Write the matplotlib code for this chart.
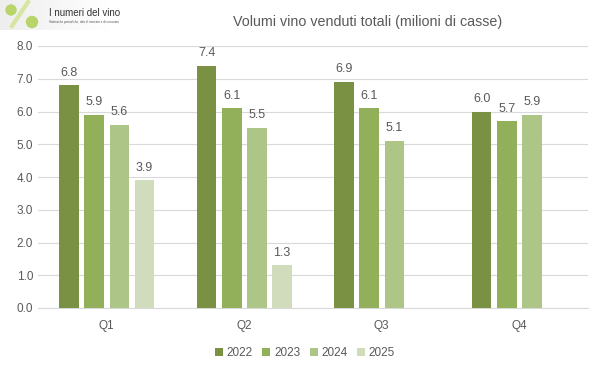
import numpy as np
import matplotlib
matplotlib.use('Agg')
import matplotlib.pyplot as plt

quarters = ["Q1", "Q2", "Q3", "Q4"]
years = ["2022", "2023", "2024", "2025"]
v2022 = [6.8, 7.4, 6.9, 6.0]
v2023 = [5.9, 6.1, 6.1, 5.7]
v2024 = [5.6, 5.5, 5.1, 5.9]
v2025 = [3.9, 1.3, None, None]
series = [v2022, v2023, v2024, v2025]
colors = ["#7a9144", "#92b05a", "#adc688", "#d0dcbc"]

txt = "#595959"
plt.rcParams['font.family'] = ['Liberation Sans', 'DejaVu Sans']

fig = plt.figure(figsize=(5.99, 3.74), dpi=100)
ax = fig.add_axes([38 / 599, 1 - 308 / 374, 550 / 599, 262 / 374])

x = np.arange(len(quarters))
w = 0.142
pitch = 0.182
for i, (vals, c) in enumerate(zip(series, colors)):
    xs = [xx + (i - 1.5) * pitch for xx, v in zip(x, vals) if v is not None]
    ys = [v for v in vals if v is not None]
    bars = ax.bar(xs, ys, width=w, color=c, label=years[i], zorder=3)
    for b, v in zip(bars, ys):
        ax.text(b.get_x() + b.get_width() / 2, v + 0.2, "%.1f" % v,
                ha='center', va='bottom', fontsize=9, color=txt)

ax.set_xlim(-0.5, 3.5)
ax.set_ylim(0, 8)
ax.set_yticks(np.arange(0, 8.1, 1))
ax.set_yticklabels(["%.1f" % t for t in np.arange(0, 8.1, 1)])
ax.set_xticks(x)
ax.set_xticklabels(quarters)
ax.tick_params(axis='both', length=0, labelsize=8.5, labelcolor=txt)
ax.tick_params(axis='x', pad=9)
ax.grid(axis='y', color='#d9d9d9', linewidth=0.8, zorder=0)
for s in ['top', 'right', 'left']:
    ax.spines[s].set_visible(False)
ax.spines['bottom'].set_color('#d9d9d9')

fig.text(368 / 599, 1 - 22 / 374, "Volumi vino venduti totali (milioni di casse)",
         ha='center', va='center', fontsize=10.3, color=txt)

leg = fig.legend(loc='center', bbox_to_anchor=(305 / 599, 1 - 353 / 374), ncol=4,
                 frameon=False, fontsize=8.5, handlelength=0.7, handleheight=0.7,
                 handletextpad=0.3, columnspacing=0.8, labelcolor=txt)

# logo
logo = fig.add_axes([0, 1 - 30 / 374, 115 / 599, 30 / 374])
logo.set_xlim(0, 115)
logo.set_ylim(0, 30)
logo.axis('off')
logo.imshow(np.linspace(0.93, 1.0, 100)[None, :], cmap='gray', vmin=0, vmax=1,
            extent=[0, 115, 0, 30], aspect='auto')
logo.plot([12, 28], [4, 28], color='#d6e6a0', linewidth=3)
logo.add_patch(plt.Circle((11, 20), 5, color='#b8d46a'))
logo.add_patch(plt.Circle((32, 8), 5.5, color='#b8d46a'))
logo.text(49, 17, "I numeri del vino", fontsize=7, color='#333333', va='center')
logo.text(49, 8, "Statistiche periodiche, dati di mercato e di consumo", fontsize=2.2,
          color='#555555', va='center')

fig.savefig("out.png", dpi=100)
